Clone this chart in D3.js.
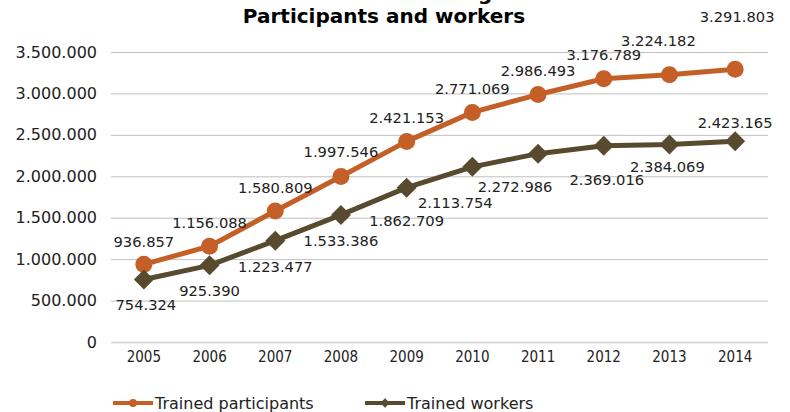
<!DOCTYPE html>
<html>
<head>
<meta charset="utf-8">
<script src="https://cdn.jsdelivr.net/npm/d3@7/dist/d3.min.js"></script>
<style>
  html, body { margin: 0; padding: 0; background: #fff; }
  svg { display: block; font-family: "DejaVu Sans", Verdana, sans-serif; }
</style>
</head>
<body>
<svg id="chart" width="790" height="412"></svg>
<script>
// ---- data ----
const years = ["2005","2006","2007","2008","2009","2010","2011","2012","2013","2014"];
const trainedParticipants = [936857, 1156088, 1580809, 1997546, 2421153, 2771069, 2986493, 3176789, 3224182, 3291803];
const trainedWorkers = [754324, 925390, 1223477, 1533386, 1862709, 2113754, 2272986, 2369016, 2384069, 2423165];
const yTicks = [0, 500000, 1000000, 1500000, 2000000, 2500000, 3000000, 3500000];
const seriesNames = ["Trained participants", "Trained workers"];
const titleLines = ["Vocational Training", "Participants and workers"];

// ---- label placement (layout, offsets from each point) ----
const partLabelDx = [0, 0, 0, 0, 0, 0, 0, 0, -11, 2];
const partLabelDy = [-17, -18, -18, -19, -18, -18, -19, -19, -29, -47];
const workLabelDx = [2, 0, 0, 0, 0, -17, -23, 3, -2, 0];
const workLabelDy = [31, 31, 31, 31, 38, 41, 38, 39, 28, -13];

const colors = ["#c55f28", "#584a2e"];
const fmt = v => d3.format(",")(v).replace(/,/g, ".");

const svg = d3.select("#chart");
const x = d3.scaleBand().domain(years).range([111, 768]).padding(0);
const y = d3.scaleLinear().domain([0, 3500000]).range([342, 52]);
const cx = d => x(d) + x.bandwidth() / 2;

// title
svg.append("text").attr("x", 384).attr("y", 0).attr("text-anchor", "middle")
  .attr("font-size", 20).attr("font-weight", "bold").attr("fill", "#000").text(titleLines[0]);
svg.append("text").attr("x", 384).attr("y", 23).attr("text-anchor", "middle")
  .attr("font-size", 20).attr("font-weight", "bold").attr("fill", "#000").text(titleLines[1]);

// gridlines + y labels
const yAxis = d3.axisLeft(y).tickValues(yTicks).tickSize(-(768 - 111)).tickFormat(fmt).tickPadding(14);
const gy = svg.append("g").attr("transform", "translate(111,0)").call(yAxis);
gy.select(".domain").remove();
gy.selectAll(".tick line").attr("stroke", d => d === 0 ? "#d9d9d9" : "#bfbfbf")
  .attr("stroke-width", d => d === 0 ? 2 : 1);
gy.selectAll(".tick text").attr("font-size", 16).attr("fill", "#222")
  .attr("font-family", "'DejaVu Sans', Verdana, sans-serif").attr("x", -14);

// x labels
const xAxis = d3.axisBottom(x).tickSize(0).tickPadding(10);
const gx = svg.append("g").attr("transform", "translate(0,342)").call(xAxis);
gx.select(".domain").remove();
gx.selectAll(".tick text").attr("font-size", 15).attr("fill", "#222")
  .attr("font-family", "'DejaVu Sans Condensed', 'DejaVu Sans', sans-serif")
  .style("font-stretch", "condensed").attr("dy", "0.71em").attr("y", 9);

// lines
const line = d3.line().x((d, i) => cx(years[i])).y(d => y(d));
[trainedParticipants, trainedWorkers].forEach((vals, si) => {
  svg.append("path").datum(vals).attr("d", line).attr("fill", "none")
    .attr("stroke", colors[si]).attr("stroke-width", 5).attr("stroke-linejoin", "round");
});

// markers
svg.selectAll("circle.part").data(trainedParticipants).enter().append("circle")
  .attr("class", "part").attr("cx", (d, i) => cx(years[i])).attr("cy", d => y(d))
  .attr("r", 8.5).attr("fill", colors[0]);
const diamond = d3.symbol().type(d3.symbolSquare).size(200);
svg.selectAll("path.work").data(trainedWorkers).enter().append("path")
  .attr("class", "work").attr("d", diamond)
  .attr("transform", (d, i) => `translate(${cx(years[i])},${y(d)}) rotate(45)`)
  .attr("fill", colors[1]);

// data labels
svg.selectAll("text.plab").data(trainedParticipants).enter().append("text")
  .attr("class", "plab").attr("text-anchor", "middle").attr("font-size", 14.7).attr("fill", "#222")
  .attr("x", (d, i) => cx(years[i]) + partLabelDx[i]).attr("y", (d, i) => y(d) + partLabelDy[i])
  .text(fmt);
svg.selectAll("text.wlab").data(trainedWorkers).enter().append("text")
  .attr("class", "wlab").attr("text-anchor", "middle").attr("font-size", 14.7).attr("fill", "#222")
  .attr("x", (d, i) => cx(years[i]) + workLabelDx[i]).attr("y", (d, i) => y(d) + workLabelDy[i])
  .text(fmt);

// legend
const legX = [113, 365];
seriesNames.forEach((name, si) => {
  const g = svg.append("g").attr("transform", `translate(${legX[si]},403)`);
  g.append("line").attr("x1", 0).attr("x2", 40).attr("y1", 0).attr("y2", 0)
    .attr("stroke", colors[si]).attr("stroke-width", 4);
  if (si === 0) {
    g.append("circle").attr("cx", 20).attr("cy", 0).attr("r", 4).attr("fill", colors[si]);
  } else {
    g.append("path").attr("d", d3.symbol().type(d3.symbolSquare).size(45))
      .attr("transform", "translate(20,0) rotate(45)").attr("fill", colors[si]);
  }
  g.append("text").attr("x", 42).attr("y", 5.5).attr("font-size", 16).attr("fill", "#222").text(name);
});
</script>
</body>
</html>
